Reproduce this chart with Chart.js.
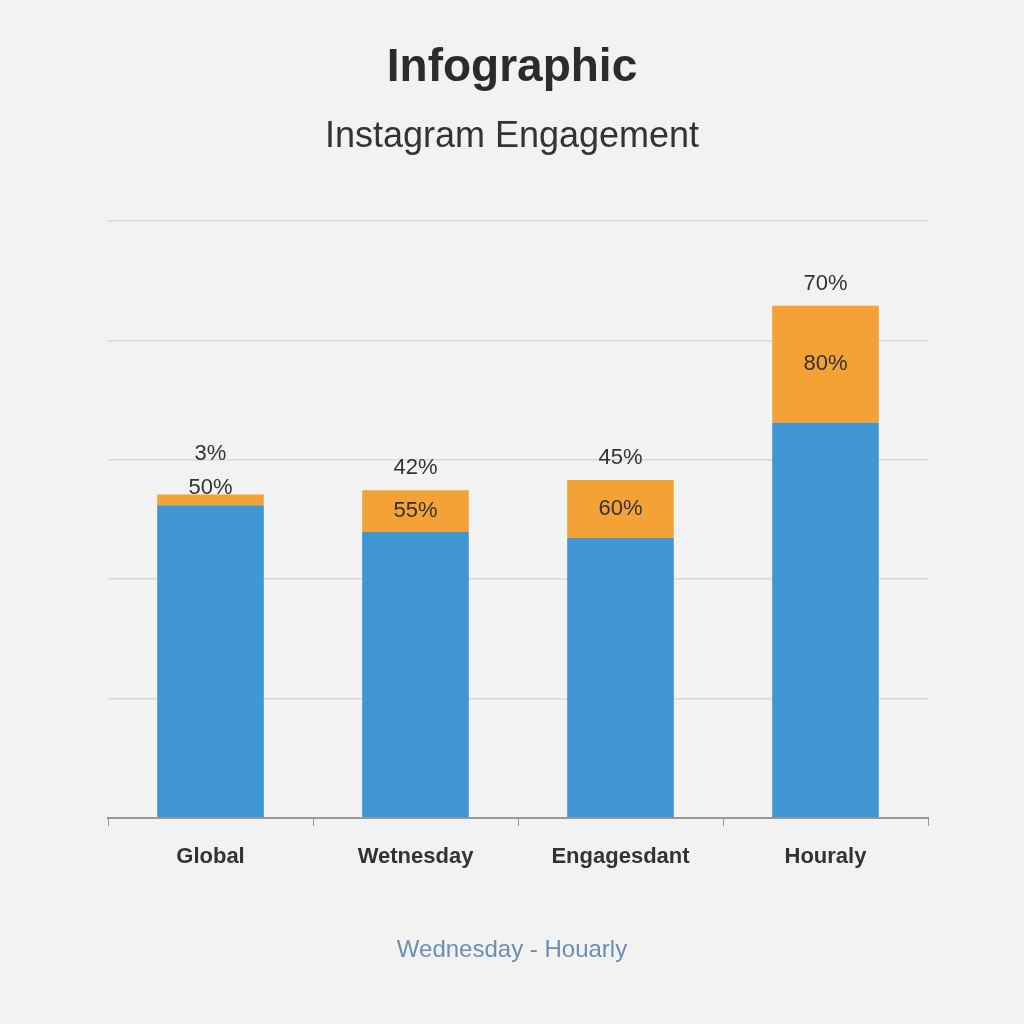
<!DOCTYPE html>
<html><head><meta charset="utf-8">
<script src="https://cdn.jsdelivr.net/npm/chart.js@4/dist/chart.umd.min.js"></script>
<style>html,body{margin:0;padding:0;background:#f2f2f2;}#w{width:1024px;height:1024px;}</style>
</head><body><div id="w"><canvas id="c"></canvas></div>
<script>
const categories = ["Global", "Wetnesday", "Engagesdant", "Houraly"];
const baseValues = [52.4, 47.9, 46.9, 66.2];
const topValues = [1.8, 7.0, 9.7, 19.6];
const segLabels = ["50%", "55%", "60%", "80%"];
const topLabels = ["3%", "42%", "45%", "70%"];
const titleText = "Infographic";
const subtitleText = "Instagram Engagement";
const footerText = "Wednesday - Houarly";

const textPlugin = {
  id: 'texts',
  afterDatasetsDraw(chart) {
    const ctx = chart.ctx;
    const m1 = chart.getDatasetMeta(1);
    ctx.save();
    ctx.textAlign = 'center'; ctx.textBaseline = 'middle';
    ctx.fillStyle = '#333';
    ctx.font = '22px "Liberation Sans", Arial, sans-serif';
    m1.data.forEach((bar, i) => {
      const top = bar.y, bottom = bar.base;
      const segMid = Math.max((top + bottom) / 2, top + 0);
      ctx.fillText(segLabels[i], bar.x, (bottom - top) < 30 ? top - 6 : segMid);
      ctx.fillText(topLabels[i], bar.x, (bottom - top) < 30 ? top - 40 : top - 22);
    });
    const cx = chart.width / 2;
    ctx.font = 'bold 46px "Liberation Sans", Arial, sans-serif';
    ctx.fillStyle = '#2b2b2b';
    ctx.fillText(titleText, cx, 68);
    ctx.font = '36px "Liberation Sans", Arial, sans-serif';
    ctx.fillStyle = '#333';
    ctx.fillText(subtitleText, cx, 137);
    ctx.font = '24px "Liberation Sans", Arial, sans-serif';
    ctx.fillStyle = '#6a8fb5';
    ctx.fillText(footerText, cx, 950);
    ctx.restore();
  }
};

new Chart(document.getElementById('c'), {
  type: 'bar',
  data: {
    labels: categories,
    datasets: [
      { data: baseValues, backgroundColor: '#3f96d1', barPercentage: 0.52, categoryPercentage: 1 },
      { data: topValues, backgroundColor: '#f4a236', barPercentage: 0.52, categoryPercentage: 1 }
    ]
  },
  options: {
    responsive: true, maintainAspectRatio: false, animation: false,
    layout: { padding: { top: 221, left: 108, right: 96, bottom: 0 } },
    plugins: { legend: { display: false }, tooltip: { enabled: false } },
    scales: {
      x: {
        stacked: true,
        afterFit(s) { s.height = 206; },
        grid: { drawOnChartArea: false, drawTicks: true, tickLength: 8, color: '#999', offset: true },
        border: { color: '#999', width: 2 },
        ticks: { padding: 18, color: '#333', font: { size: 22, weight: 'bold', family: '"Liberation Sans", Arial, sans-serif' } }
      },
      y: {
        stacked: true, min: 0, max: 100,
        afterFit(s) { s.width = 0; },
        ticks: { display: false, stepSize: 20 },
        grid: { color: '#d8d8d8', lineWidth: 1.5, drawTicks: false },
        border: { display: false }
      }
    }
  },
  plugins: [textPlugin]
});
</script></body></html>
